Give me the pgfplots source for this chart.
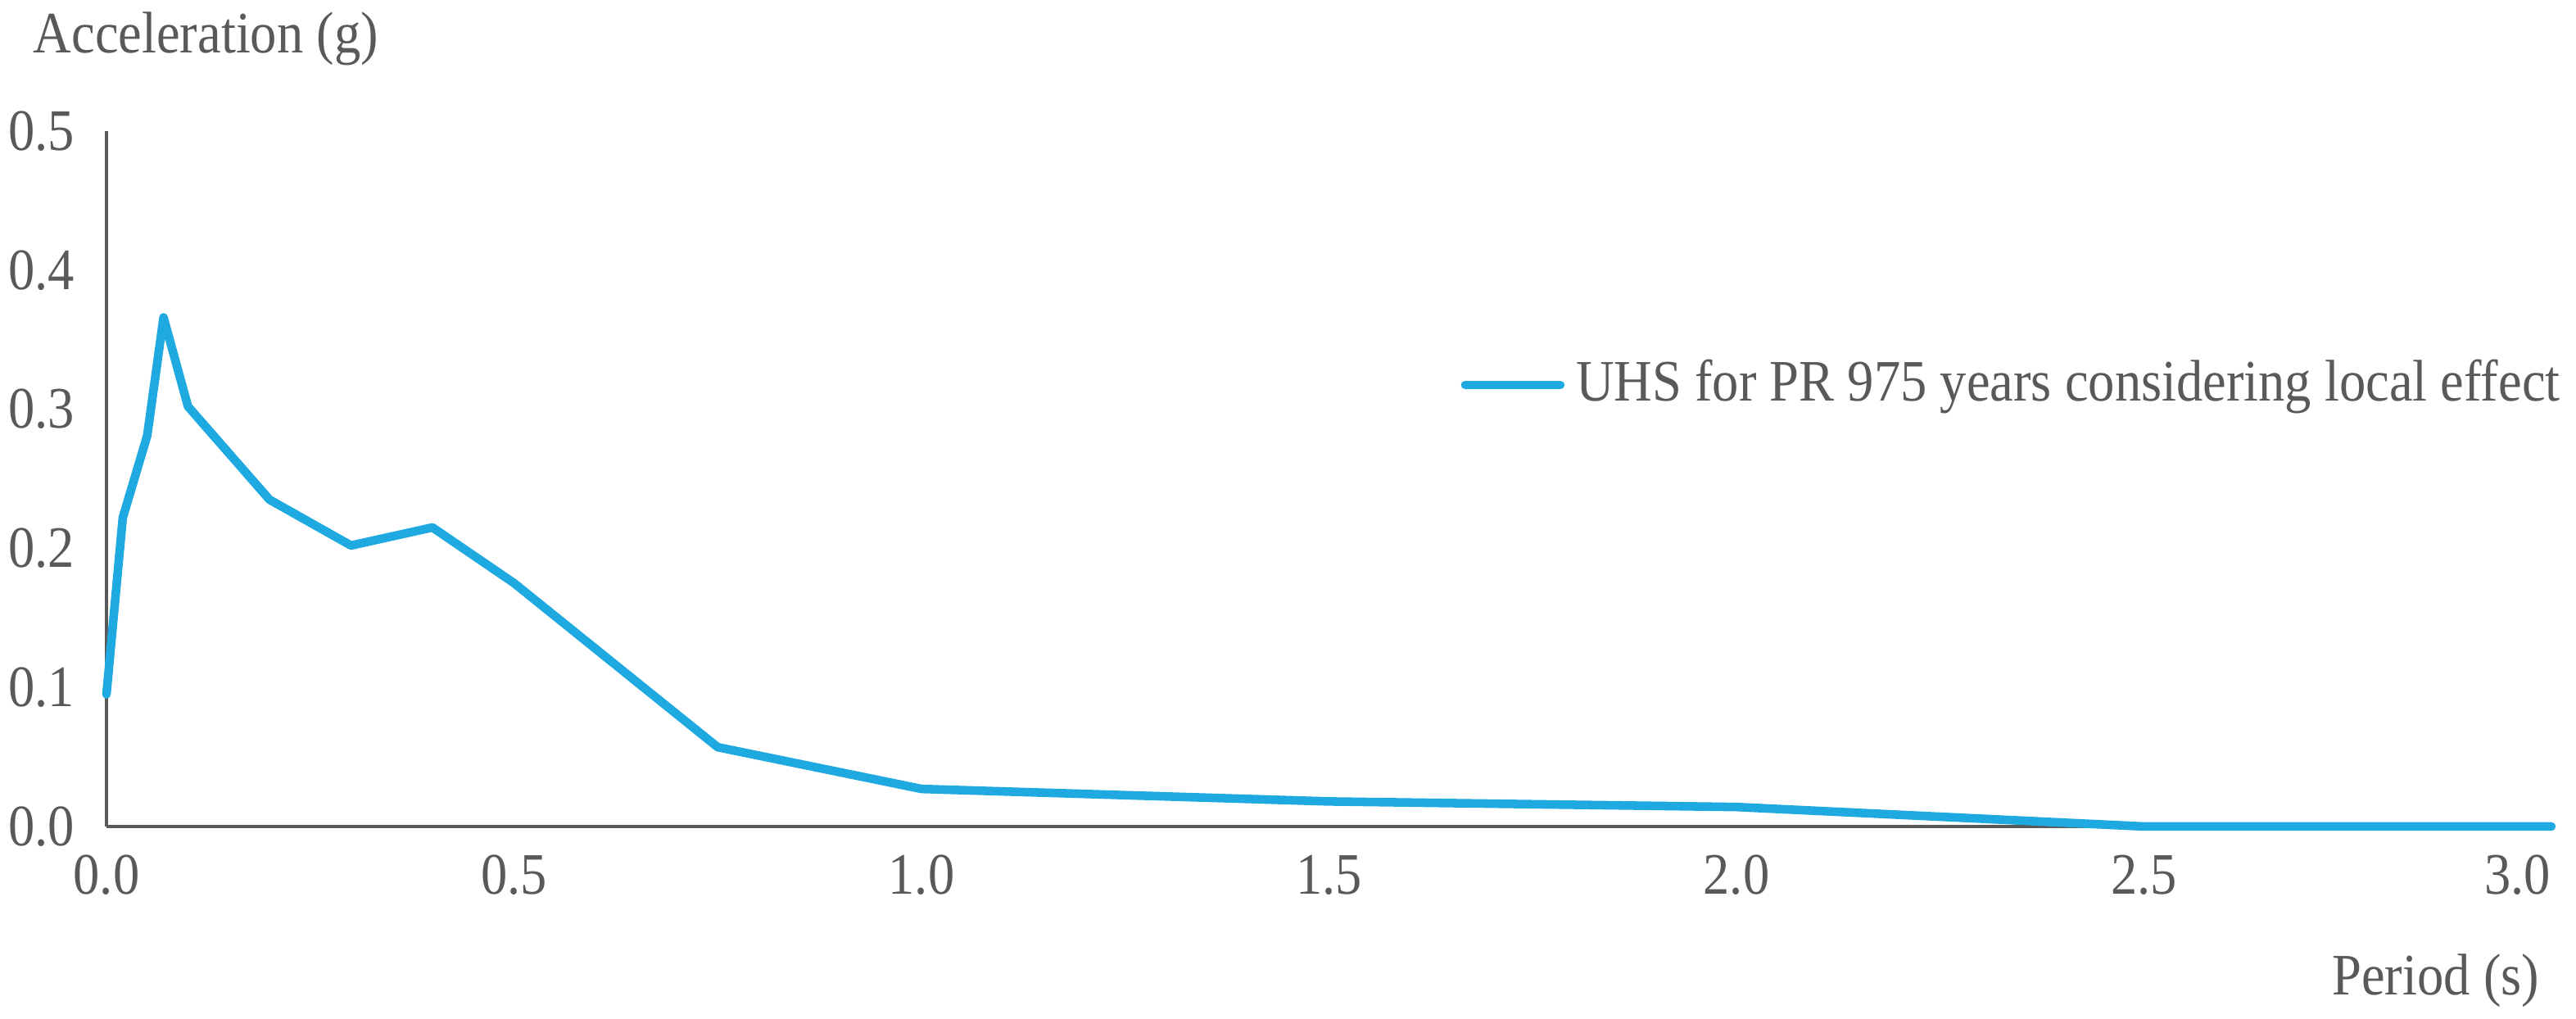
\documentclass[border=0pt]{standalone}
\usepackage{fontspec}
\setmainfont{Liberation Serif}[FakeStretch=0.9]
\usepackage{pgfplots}
\pgfplotsset{compat=1.18}
\definecolor{axgray}{HTML}{595959}
\definecolor{uhs}{HTML}{1FA9E1}
\begin{document}
\begin{tikzpicture}
\path[use as bounding box] (-6.5mm,-11.75mm) rectangle (150.75mm,50.45mm);
\begin{axis}[
  scale only axis,
  width=149.25mm, height=42.45mm,
  xmin=0, xmax=3, ymin=0, ymax=0.5,
  axis lines=left,
  axis line style={-, draw=axgray, line width=0.6pt},
  major tick length=0pt,
  xtick={0,0.5,...,2.5}, ytick={0,0.1,...,0.5},
  extra x ticks={3},
  extra x tick style={xticklabel style={anchor=north east, xshift=1.2mm}},
  /pgf/number format/assume math mode=true,
  /pgf/number format/.cd, fixed, fixed zerofill, precision=1, /pgfplots/.cd,
  tick label style={font=\fontsize{10.2}{12}\selectfont, text=axgray},
  yticklabel style={xshift=-0.7mm},
  xticklabel style={yshift=-0.5mm},
  xlabel={Period (s)}, ylabel={Acceleration (g)},
  label style={font=\fontsize{10.2}{12}\selectfont, text=axgray},
  xlabel style={at={(rel axis cs:1,0)}, anchor=base east, yshift=-10.3mm, xshift=0.5mm},
  ylabel style={at={(rel axis cs:0,1)}, anchor=base west, rotate=-90, xshift=-5.7mm, yshift=4.75mm},
  legend style={at={(rel axis cs:1,0.635)}, anchor=east, xshift=1.3mm, draw=none, fill=none,
    font=\fontsize{10.2}{12}\selectfont, text=axgray, inner sep=0pt},
  legend image code/.code={\draw[#1] (0mm,0mm) -- (5.8mm,0mm);},
  clip=false,
]
\addplot[color=uhs, line width=1.5pt, line join=round, line cap=round] coordinates {
(0,0.095) (0.02,0.222) (0.05,0.281) (0.07,0.366) (0.1,0.302) (0.2,0.235)
(0.3,0.202) (0.4,0.215) (0.5,0.175) (0.75,0.057) (1.0,0.027) (1.5,0.018)
(2.0,0.014) (2.5,0.0) (3.0,0.0)
};
\addlegendentry{UHS for PR 975 years considering local effect}
\end{axis}
\end{tikzpicture}
\end{document}
